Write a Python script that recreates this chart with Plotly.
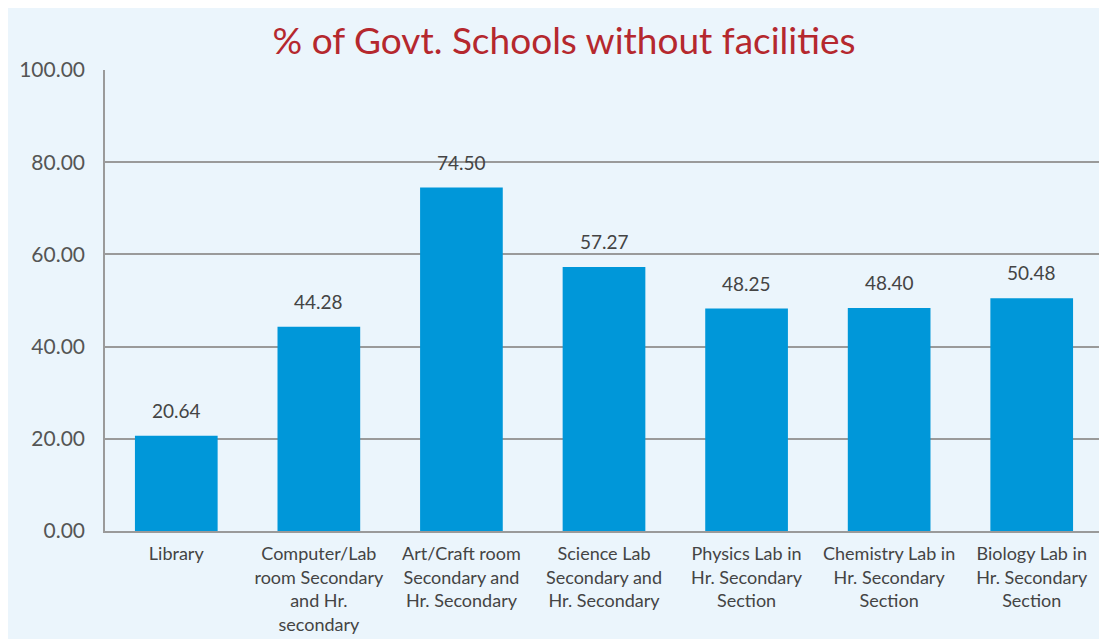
import plotly.graph_objects as go

categories = [
    "Library",
    "Computer/Lab<br>room Secondary<br>and Hr.<br>secondary",
    "Art/Craft room<br>Secondary and<br>Hr. Secondary",
    "Science Lab<br>Secondary and<br>Hr. Secondary",
    "Physics Lab in<br>Hr. Secondary<br>Section",
    "Chemistry Lab in<br>Hr. Secondary<br>Section",
    "Biology Lab in<br>Hr. Secondary<br>Section",
]
values = [20.64, 44.28, 74.50, 57.27, 48.25, 48.40, 50.48]
tick_vals = [0, 20, 40, 60, 80, 100]
tick_text = ["0.00", "20.00", "40.00", "60.00", "80.00", "100.00"]

bg = "#EBF5FC"
fig = go.Figure(go.Bar(
    x=categories, y=values,
    marker=dict(color="#0097D9", line=dict(width=0)),
    cliponaxis=False,
))
for c, v in zip(categories, values):
    fig.add_annotation(x=c, y=v, text=f"{v:.2f}", showarrow=False,
                       yanchor="bottom", yshift=12,
                       font=dict(size=19, color="#444444", family="Lato, sans-serif"))
fig.update_layout(
    width=1099, height=631,
    paper_bgcolor=bg, plot_bgcolor=bg,
    margin=dict(l=97, r=4, t=62, b=104),
    bargap=0.42,
    showlegend=False,
    title=dict(text="% of Govt. Schools without facilities",
               x=0.506, xanchor="center", y=0.947, yanchor="middle",
               font=dict(size=37, color="#B5282E", family="Lato, sans-serif")),
    font=dict(family="Lato, sans-serif"),
)
fig.update_yaxes(range=[0, 100], tickvals=tick_vals, ticktext=tick_text,
                 showgrid=True, gridcolor="#9A9A9A", gridwidth=1.5,
                 showline=True, linecolor="#9A9A9A", linewidth=1.5,
                 zeroline=False, ticks="", ticklabelstandoff=14,
                 tickfont=dict(size=21, color="#555555"))
fig.update_xaxes(showline=True, linecolor="#9A9A9A", linewidth=1.5,
                 ticks="", tickangle=0, ticklabelstandoff=6,
                 tickfont=dict(size=18, color="#444444"))
fig.write_html("out.html")
